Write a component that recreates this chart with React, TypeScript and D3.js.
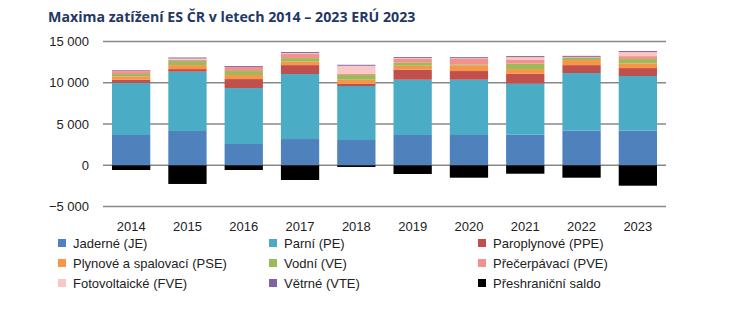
import React from "react";
import * as d3 from "d3";

const years = ["2014", "2015", "2016", "2017", "2018", "2019", "2020", "2021", "2022", "2023"];
const jaderne = [3670, 4150, 2580, 3180, 3060, 3670, 3670, 3700, 4190, 4190];
const parni = [6290, 7180, 6770, 7870, 6540, 6690, 6690, 6180, 6980, 6620];
const paroplynove = [400, 320, 1090, 1080, 280, 1210, 1050, 1200, 960, 960];
const plynove = [410, 480, 490, 450, 480, 480, 640, 570, 610, 570];
const vodni = [280, 490, 480, 400, 570, 360, 120, 650, 280, 520];
const precerpavaci = [360, 160, 480, 490, 120, 490, 770, 520, 80, 360];
const fotovoltaicke = [40, 150, 0, 120, 1000, 80, 40, 280, 30, 490];
const vetrne = [80, 120, 120, 120, 120, 120, 110, 120, 120, 120];
const saldo = [-570, -2260, -570, -1780, -200, -1050, -1500, -1020, -1500, -2470];
const yTicks = [-5000, 0, 5000, 10000, 15000];

const seriesNames = [
  "Jaderné (JE)", "Parní (PE)", "Paroplynové (PPE)", "Plynové a spalovací (PSE)",
  "Vodní (VE)", "Přečerpávací (PVE)", "Fotovoltaické (FVE)", "Větrné (VTE)", "Přeshraniční saldo",
];
const colors = ["#4F81BD", "#4BACC6", "#C0504D", "#F79646", "#9BBB59", "#F2928D", "#F8C8C7", "#8064A2", "#000000"];
const positiveSeries = [jaderne, parni, paroplynove, plynove, vodni, precerpavaci, fotovoltaicke, vetrne];

export default function App() {
  const W = 731, H = 323;
  const x = d3.scaleBand<string>().domain(years).range([103, 666]).paddingInner(0.32).paddingOuter(0.16);
  const y = d3.scaleLinear().domain([-5000, 15000]).range([206.6, 41.4]);
  const font = "'Liberation Sans', Arial, sans-serif";

  const rows = years.map((yr, i) => {
    const r: any = { year: yr };
    positiveSeries.forEach((s, k) => (r["s" + k] = s[i]));
    return r;
  });
  const stack = d3.stack<any>().keys(positiveSeries.map((_, k) => "s" + k));
  const stacked = stack(rows);

  const legendCols = [61, 272, 481];
  const legendRows = [243, 263, 283];

  return (
    <svg width={W} height={H} style={{ position: "absolute", left: 0, top: 0 }}>
      <rect width={W} height={H} fill="#fff" />
      <text x={48} y={22} fontFamily="'Open Sans', sans-serif" fontWeight={700} fontSize={14.2} fill="#1F3864">
        Maxima zatížení ES ČR v letech 2014 – 2023 ERÚ 2023
      </text>
      {yTicks.map((t) => (
        <g key={t}>
          <line x1={103} x2={666} y1={y(t)} y2={y(t)} stroke="#888" strokeWidth={1.5} />
          <text x={89} y={y(t) + 4.5} textAnchor="end" fontFamily={font} fontSize={13} fill="#222">
            {d3.format(",")(t).replace(/,/g, " ")}
          </text>
        </g>
      ))}
      {stacked.map((layer, k) => (
        <g key={k} fill={colors[k]}>
          {layer.map((d, i) => (
            <rect key={i} x={x(years[i])} width={x.bandwidth()} y={y(d[1])} height={Math.max(0, y(d[0]) - y(d[1]))} />
          ))}
        </g>
      ))}
      <g fill={colors[8]}>
        {saldo.map((v, i) => (
          <rect key={i} x={x(years[i])} width={x.bandwidth()} y={y(0)} height={y(v) - y(0)} />
        ))}
      </g>
      {years.map((yr) => (
        <text key={yr} x={(x(yr) as number) + x.bandwidth() / 2} y={231} textAnchor="middle" fontFamily={font} fontSize={13} fill="#222">
          {yr}
        </text>
      ))}
      {seriesNames.map((n, i) => {
        const cx = legendCols[i % 3];
        const cy = legendRows[Math.floor(i / 3)];
        return (
          <g key={n}>
            <rect x={cx - 3} y={cy - 4} width={8} height={8} fill={colors[i]} />
            <text x={cx + 12} y={cy + 4.5} fontFamily={font} fontSize={13} fill="#222">{n}</text>
          </g>
        );
      })}
    </svg>
  );
}
